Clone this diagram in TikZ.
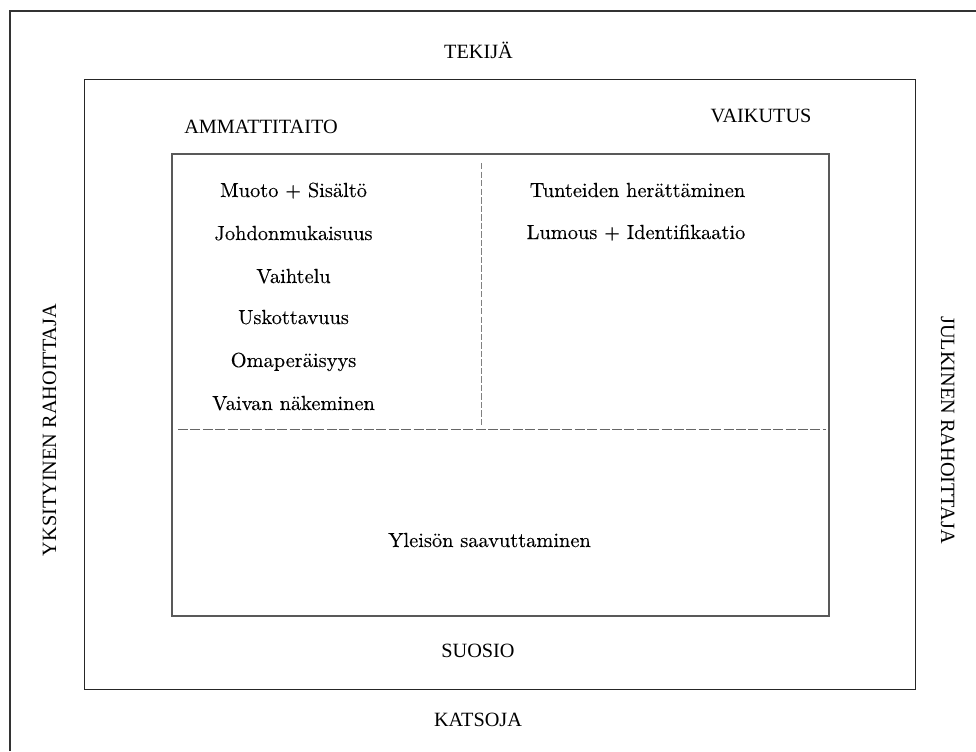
\documentclass[tikz,border=0pt]{standalone}
\usepackage{fontspec}
\newfontfamily\capsfont{Liberation Serif}
\newfontfamily\itemfont[RawFeature={embolden=0.2}]{lmroman10-regular.otf}
\begin{document}
\begin{tikzpicture}[x=0.75pt,y=-0.75pt,
  capslbl/.style={inner sep=0pt, anchor=base, font=\capsfont\fontsize{15.2}{18}\selectfont, text=black},
  itemlbl/.style={inner sep=0pt, anchor=base, font=\itemfont\fontsize{15.3}{18}\selectfont, text=black},
  frameline/.style={draw=black!80, line width=1.1pt},
  midbox/.style={draw=black!85, line width=1.1pt},
  innerbox/.style={draw=black!65, line width=1.5pt},
  hdash/.style={draw=black!60, line width=0.7pt, dash pattern=on 7.5pt off 1.8pt},
  vdash/.style={draw=black!50, line width=0.7pt, dash pattern=on 4.8pt off 1.6pt}]
\useasboundingbox[fill=white] (0,0) rectangle (976,751);
% outer frame (only top and left edges lie inside the picture)
\coordinate (obl) at (10,751);
\coordinate (otl) at (10,11);
\coordinate (otr) at (976,11);
\draw[frameline] (obl) -- (otl) -- (otr);
% middle and inner boxes
\node[midbox, minimum width=831*0.75pt, minimum height=610*0.75pt, inner sep=0pt, anchor=north west] (mid) at (84,79) {};
\node[innerbox, minimum width=657*0.75pt, minimum height=462*0.75pt, inner sep=0pt, anchor=north west] (inner) at (171,153) {};
% dashed dividers
\coordinate (vt) at (481,163);
\coordinate (vb) at (481,425);
\coordinate (hl) at (178,429);
\coordinate (hr) at (826,429);
\draw[vdash] (vt) -- (vb);
\draw[hdash] (hl) -- (hr);
% caps labels
\node[capslbl] (tekija) at (478.5,58) {TEKIJÄ};
\node[capslbl] (ammatti) at (261,133) {AMMATTITAITO};
\node[capslbl] (vaikutus) at (761,122) {VAIKUTUS};
\node[capslbl] (suosio) at (478,657) {SUOSIO};
\node[capslbl] (katsoja) at (478,726) {KATSOJA};
\node[capslbl, rotate=90] (yksit) at (56,430) {YKSITYINEN RAHOITTAJA};
\node[capslbl, rotate=-90] (julk) at (941,430) {JULKINEN RAHOITTAJA};
% left list
\node[itemlbl] (l1) at (293.5,197) {Muoto + Sisältö};
\node[itemlbl] (l2) at (293.5,240) {Johdonmukaisuus};
\node[itemlbl] (l3) at (293.5,283) {Vaihtelu};
\node[itemlbl] (l4) at (293.5,324) {Uskottavuus};
\node[itemlbl] (l5) at (293.5,367) {Omaperäisyys};
\node[itemlbl] (l6) at (293.5,410) {Vaivan näkeminen};
% right list
\node[itemlbl] (r1) at (637.5,197) {Tunteiden herättäminen};
\node[itemlbl] (r2) at (636,239) {Lumous + Identifikaatio};
% bottom
\node[itemlbl] (yl) at (489.5,547) {Yleisön saavuttaminen};
\end{tikzpicture}
\end{document}
